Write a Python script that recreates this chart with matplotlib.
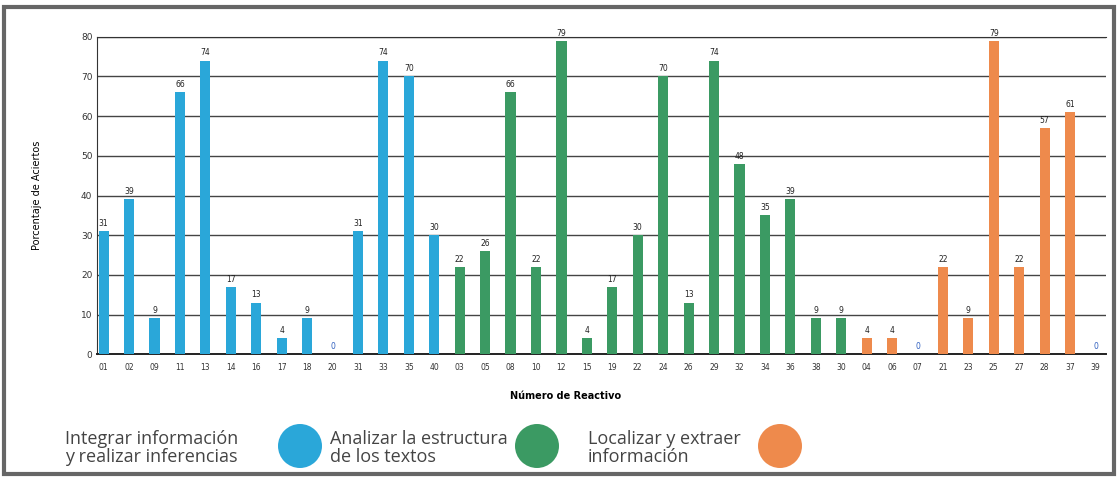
import matplotlib.pyplot as plt
from matplotlib.patches import Ellipse, Rectangle

# datos
reactivos_integrar = ['01', '02', '09', '11', '13', '14', '16', '17', '18', '20', '31', '33', '35', '40']
aciertos_integrar = [31, 39, 9, 66, 74, 17, 13, 4, 9, 0, 31, 74, 70, 30]

reactivos_analizar = ['03', '05', '08', '10', '12', '15', '19', '22', '24', '26', '29', '32', '34', '36', '38', '30']
aciertos_analizar = [22, 26, 66, 22, 79, 4, 17, 30, 70, 13, 74, 48, 35, 39, 9, 9]

reactivos_localizar = ['04', '06', '07', '21', '23', '25', '27', '28', '37', '39']
aciertos_localizar = [4, 4, 0, 22, 9, 79, 22, 57, 61, 0]

colores = ['#2aa7d9', '#3b9a63', '#ee8a4c']
leyenda = ['Integrar información\ny realizar inferencias',
           'Analizar la estructura\nde los textos',
           'Localizar y extraer\ninformación']

W, H = 1118, 478
fig = plt.figure(figsize=(W / 100, H / 100), dpi=100)
ax = fig.add_axes([0.087, 0.259, 0.902, 0.664])

grupos = [(reactivos_integrar, aciertos_integrar),
          (reactivos_analizar, aciertos_analizar),
          (reactivos_localizar, aciertos_localizar)]

etiquetas = []
inicio = 0
for (reac, vals), c in zip(grupos, colores):
    xs = list(range(inicio, inicio + len(vals)))
    ax.bar(xs, vals, width=0.4, color=c, zorder=3)
    for x, v in zip(xs, vals):
        ax.text(x, v + 0.8, str(v), ha='center', va='bottom', fontsize=5.5,
                color='#3060c0' if v == 0 else '#222222', zorder=4)
    etiquetas += reac
    inicio += len(vals)

ax.set_xlim(-0.25, inicio - 0.6)
ax.set_ylim(0, 80)
ax.set_yticks(range(0, 81, 10))
ax.set_xticks(range(inicio))
ax.set_xticklabels(etiquetas, fontsize=5.5, color='#333333')
ax.tick_params(axis='y', labelsize=6.5, length=0, colors='#333333')
ax.tick_params(axis='x', length=0, pad=6)
ax.yaxis.grid(True, color='#444444', linewidth=1.0, zorder=0)
ax.spines['right'].set_visible(False)
ax.spines['top'].set_color('#333333')
ax.spines['left'].set_color('#333333')
ax.spines['bottom'].set_color('#222222')
ax.spines['bottom'].set_linewidth(1.4)

ax.set_ylabel('Porcentaje de Aciertos', fontsize=7, labelpad=28)
ax.set_xlabel('Número de Reactivo', fontsize=7, fontweight='bold')
ax.xaxis.set_label_coords(0.464, -0.115)

# leyenda de abajo con circulos
pos_texto = [65, 330, 588]
pos_circ = [300, 537, 780]
for t, xc, xt, c in zip(leyenda, pos_circ, pos_texto, colores):
    fig.text(xt / W, 1 - 448 / H, t, fontsize=13, color='#444444', va='center',
             linespacing=0.95, family='Open Sans')
    fig.patches.append(Ellipse((xc / W, 1 - 446 / H), 44 / W, 44 / H,
                               transform=fig.transFigure, facecolor=c, edgecolor='none'))

fig.patches.append(Rectangle((0.004, 0.008), 0.992, 0.978, transform=fig.transFigure,
                             fill=False, edgecolor='#666666', linewidth=3))

fig.savefig('out.png', dpi=100)
